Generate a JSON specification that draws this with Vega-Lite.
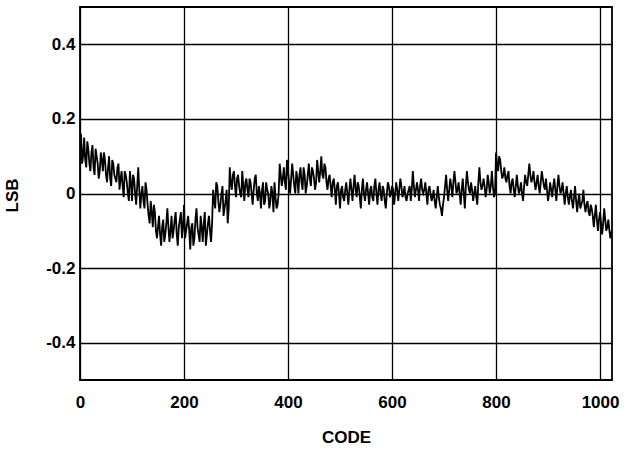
{
  "$schema": "https://vega.github.io/schema/vega-lite/v6.json",
  "width": 532,
  "height": 373,
  "autosize": "none",
  "padding": {"left": 80, "top": 7, "right": 22, "bottom": 69},
  "background": "white",
  "config": {
    "view": {"stroke": "black", "strokeWidth": 1.8},
    "font": "Liberation Sans"
  },
  "data": {"values": [
    {"code":0,"lsb":0.13},{"code":4,"lsb":0.08},{"code":8,"lsb":0.15},{"code":12,"lsb":0.07},{"code":16,"lsb":0.12},{"code":20,"lsb":0.06},{"code":24,"lsb":0.13},{"code":28,"lsb":0.05},{"code":32,"lsb":0.10},{"code":36,"lsb":0.04},{"code":40,"lsb":0.11},{"code":44,"lsb":0.06},{"code":48,"lsb":0.09},{"code":52,"lsb":0.03},{"code":56,"lsb":0.10},{"code":60,"lsb":0.02},{"code":64,"lsb":0.08},{"code":68,"lsb":0.04},{"code":72,"lsb":0.07},{"code":76,"lsb":0.01},{"code":80,"lsb":0.06},{"code":84,"lsb":-0.01},{"code":88,"lsb":0.05},{"code":92,"lsb":0.00},{"code":96,"lsb":0.06},{"code":100,"lsb":-0.02},{"code":104,"lsb":0.04},{"code":108,"lsb":-0.03},{"code":112,"lsb":0.07},{"code":116,"lsb":-0.04},{"code":120,"lsb":0.02},{"code":124,"lsb":-0.04},
    {"code":128,"lsb":0.01},{"code":132,"lsb":-0.06},{"code":136,"lsb":-0.02},{"code":140,"lsb":-0.09},{"code":144,"lsb":-0.05},{"code":148,"lsb":-0.12},{"code":152,"lsb":-0.06},{"code":156,"lsb":-0.14},{"code":160,"lsb":-0.07},{"code":164,"lsb":-0.11},{"code":168,"lsb":-0.04},{"code":172,"lsb":-0.13},{"code":176,"lsb":-0.06},{"code":180,"lsb":-0.10},{"code":184,"lsb":-0.05},{"code":188,"lsb":-0.14},{"code":192,"lsb":-0.07},{"code":196,"lsb":-0.12},{"code":200,"lsb":-0.03},{"code":204,"lsb":-0.10},{"code":208,"lsb":-0.06},{"code":212,"lsb":-0.15},{"code":216,"lsb":-0.08},{"code":220,"lsb":-0.12},{"code":224,"lsb":-0.04},{"code":228,"lsb":-0.11},{"code":232,"lsb":-0.06},{"code":236,"lsb":-0.13},{"code":240,"lsb":-0.05},{"code":244,"lsb":-0.11},{"code":248,"lsb":-0.06},{"code":252,"lsb":-0.13},
    {"code":256,"lsb":0.01},{"code":260,"lsb":-0.04},{"code":264,"lsb":0.02},{"code":268,"lsb":-0.05},{"code":272,"lsb":0.00},{"code":276,"lsb":-0.06},{"code":280,"lsb":-0.02},{"code":284,"lsb":-0.08},{"code":288,"lsb":0.07},{"code":292,"lsb":0.01},{"code":296,"lsb":0.06},{"code":300,"lsb":-0.01},{"code":304,"lsb":0.05},{"code":308,"lsb":0.00},{"code":312,"lsb":0.06},{"code":316,"lsb":-0.02},{"code":320,"lsb":0.04},{"code":324,"lsb":-0.01},{"code":328,"lsb":0.03},{"code":332,"lsb":-0.03},{"code":336,"lsb":0.04},{"code":340,"lsb":0.00},{"code":344,"lsb":0.02},{"code":348,"lsb":-0.04},{"code":352,"lsb":0.03},{"code":356,"lsb":-0.02},{"code":360,"lsb":0.01},{"code":364,"lsb":-0.04},{"code":368,"lsb":0.02},{"code":372,"lsb":-0.05},{"code":376,"lsb":-0.01},{"code":380,"lsb":-0.03},
    {"code":384,"lsb":0.08},{"code":388,"lsb":0.02},{"code":392,"lsb":0.07},{"code":396,"lsb":0.01},{"code":400,"lsb":0.06},{"code":404,"lsb":0.00},{"code":408,"lsb":0.08},{"code":412,"lsb":0.02},{"code":416,"lsb":0.06},{"code":420,"lsb":0.00},{"code":424,"lsb":0.07},{"code":428,"lsb":0.01},{"code":432,"lsb":0.05},{"code":436,"lsb":0.02},{"code":440,"lsb":0.08},{"code":444,"lsb":0.02},{"code":448,"lsb":0.06},{"code":452,"lsb":0.01},{"code":456,"lsb":0.09},{"code":460,"lsb":0.03},{"code":464,"lsb":0.10},{"code":468,"lsb":0.04},{"code":472,"lsb":0.07},{"code":476,"lsb":0.01},{"code":480,"lsb":0.05},{"code":484,"lsb":-0.01},{"code":488,"lsb":0.04},{"code":492,"lsb":-0.03},{"code":496,"lsb":0.03},{"code":500,"lsb":-0.04},{"code":504,"lsb":0.02},{"code":508,"lsb":-0.02},
    {"code":512,"lsb":0.03},{"code":516,"lsb":-0.03},{"code":520,"lsb":0.04},{"code":524,"lsb":-0.02},{"code":528,"lsb":0.05},{"code":532,"lsb":-0.01},{"code":536,"lsb":0.02},{"code":540,"lsb":-0.04},{"code":544,"lsb":0.04},{"code":548,"lsb":-0.02},{"code":552,"lsb":0.03},{"code":556,"lsb":-0.03},{"code":560,"lsb":0.02},{"code":564,"lsb":-0.02},{"code":568,"lsb":0.04},{"code":572,"lsb":-0.03},{"code":576,"lsb":0.03},{"code":580,"lsb":-0.02},{"code":584,"lsb":0.01},{"code":588,"lsb":-0.04},{"code":592,"lsb":0.03},{"code":596,"lsb":-0.01},{"code":600,"lsb":0.02},{"code":604,"lsb":-0.03},{"code":608,"lsb":0.03},{"code":612,"lsb":-0.02},{"code":616,"lsb":0.04},{"code":620,"lsb":-0.01},{"code":624,"lsb":0.02},{"code":628,"lsb":-0.02},{"code":632,"lsb":0.01},{"code":636,"lsb":-0.02},
    {"code":640,"lsb":0.06},{"code":644,"lsb":-0.01},{"code":648,"lsb":0.03},{"code":652,"lsb":-0.02},{"code":656,"lsb":0.04},{"code":660,"lsb":0.00},{"code":664,"lsb":0.03},{"code":668,"lsb":-0.03},{"code":672,"lsb":0.02},{"code":676,"lsb":-0.02},{"code":680,"lsb":0.01},{"code":684,"lsb":-0.04},{"code":688,"lsb":0.02},{"code":692,"lsb":-0.03},{"code":696,"lsb":-0.06},{"code":700,"lsb":-0.01},{"code":704,"lsb":0.05},{"code":708,"lsb":-0.02},{"code":712,"lsb":0.04},{"code":716,"lsb":-0.01},{"code":720,"lsb":0.06},{"code":724,"lsb":0.00},{"code":728,"lsb":0.03},{"code":732,"lsb":-0.03},{"code":736,"lsb":0.04},{"code":740,"lsb":-0.04},{"code":744,"lsb":0.06},{"code":748,"lsb":0.01},{"code":752,"lsb":0.03},{"code":756,"lsb":-0.02},{"code":760,"lsb":0.02},{"code":764,"lsb":-0.03},{"code":768,"lsb":0.07},{"code":772,"lsb":0.01},{"code":776,"lsb":0.04},{"code":780,"lsb":-0.01},{"code":784,"lsb":0.05},{"code":788,"lsb":0.00},{"code":792,"lsb":0.06},{"code":796,"lsb":-0.01},
    {"code":800,"lsb":0.11},{"code":804,"lsb":0.06},{"code":808,"lsb":0.09},{"code":812,"lsb":0.04},{"code":816,"lsb":0.07},{"code":820,"lsb":0.03},{"code":824,"lsb":0.06},{"code":828,"lsb":0.00},{"code":832,"lsb":0.04},{"code":836,"lsb":-0.01},{"code":840,"lsb":0.05},{"code":844,"lsb":0.00},{"code":848,"lsb":0.03},{"code":852,"lsb":-0.02},{"code":856,"lsb":0.05},{"code":860,"lsb":0.02},{"code":864,"lsb":0.08},{"code":868,"lsb":0.03},{"code":872,"lsb":0.06},{"code":876,"lsb":0.01},{"code":880,"lsb":0.05},{"code":884,"lsb":0.00},{"code":888,"lsb":0.06},{"code":892,"lsb":0.02},{"code":896,"lsb":0.04},{"code":900,"lsb":-0.02},{"code":904,"lsb":0.03},{"code":908,"lsb":-0.01},{"code":912,"lsb":0.04},{"code":916,"lsb":-0.02},{"code":920,"lsb":0.05},{"code":924,"lsb":0.00},{"code":928,"lsb":0.03},{"code":932,"lsb":-0.03},{"code":936,"lsb":0.02},{"code":940,"lsb":-0.03},{"code":944,"lsb":0.01},{"code":948,"lsb":-0.04},{"code":952,"lsb":0.02},{"code":956,"lsb":-0.05},{"code":960,"lsb":0.00},{"code":964,"lsb":-0.03},{"code":968,"lsb":0.01},{"code":972,"lsb":-0.05},{"code":976,"lsb":-0.02},{"code":980,"lsb":-0.06},{"code":984,"lsb":-0.04},{"code":988,"lsb":-0.09},{"code":992,"lsb":-0.03},{"code":996,"lsb":-0.10},{"code":1000,"lsb":-0.05},{"code":1004,"lsb":-0.11},{"code":1008,"lsb":-0.04},{"code":1012,"lsb":-0.10},{"code":1016,"lsb":-0.07},{"code":1020,"lsb":-0.12},{"code":1023,"lsb":-0.11},
    {"code":2,"lsb":0.16},{"code":6,"lsb":0.10},{"code":10,"lsb":0.09},{"code":14,"lsb":0.14},{"code":18,"lsb":0.08},{"code":22,"lsb":0.11},{"code":26,"lsb":0.07},{"code":30,"lsb":0.12},{"code":34,"lsb":0.08},{"code":38,"lsb":0.06},{"code":42,"lsb":0.09},{"code":46,"lsb":0.11},{"code":50,"lsb":0.05},{"code":54,"lsb":0.07},{"code":58,"lsb":0.04},{"code":62,"lsb":0.09},{"code":66,"lsb":0.05},{"code":70,"lsb":0.03},{"code":74,"lsb":0.08},{"code":78,"lsb":0.04},{"code":82,"lsb":0.02},{"code":86,"lsb":0.06},{"code":90,"lsb":0.03},{"code":94,"lsb":-0.02},{"code":98,"lsb":0.03},{"code":102,"lsb":0.05},{"code":106,"lsb":0.00},{"code":110,"lsb":0.02},{"code":114,"lsb":0.01},{"code":118,"lsb":0.00},{"code":122,"lsb":-0.02},{"code":126,"lsb":0.03},
    {"code":130,"lsb":-0.03},{"code":134,"lsb":-0.08},{"code":138,"lsb":-0.05},{"code":142,"lsb":-0.03},{"code":146,"lsb":-0.10},{"code":150,"lsb":-0.09},{"code":154,"lsb":-0.11},{"code":158,"lsb":-0.09},{"code":162,"lsb":-0.13},{"code":166,"lsb":-0.08},{"code":170,"lsb":-0.09},{"code":174,"lsb":-0.10},{"code":178,"lsb":-0.12},{"code":182,"lsb":-0.07},{"code":186,"lsb":-0.11},{"code":190,"lsb":-0.09},{"code":194,"lsb":-0.05},{"code":198,"lsb":-0.09},{"code":202,"lsb":-0.12},{"code":206,"lsb":-0.08},{"code":210,"lsb":-0.10},{"code":214,"lsb":-0.09},{"code":218,"lsb":-0.14},{"code":222,"lsb":-0.07},{"code":226,"lsb":-0.09},{"code":230,"lsb":-0.13},{"code":234,"lsb":-0.09},{"code":238,"lsb":-0.08},{"code":242,"lsb":-0.14},{"code":246,"lsb":-0.08},{"code":250,"lsb":-0.10},{"code":254,"lsb":-0.08},
    {"code":258,"lsb":-0.02},{"code":262,"lsb":0.03},{"code":266,"lsb":-0.02},{"code":270,"lsb":-0.03},{"code":274,"lsb":0.02},{"code":278,"lsb":-0.04},{"code":282,"lsb":0.01},{"code":286,"lsb":-0.04},{"code":290,"lsb":0.03},{"code":294,"lsb":0.05},{"code":298,"lsb":0.02},{"code":302,"lsb":0.04},{"code":306,"lsb":0.02},{"code":310,"lsb":-0.01},{"code":314,"lsb":0.02},{"code":318,"lsb":0.03},{"code":322,"lsb":0.01},{"code":326,"lsb":0.04},{"code":330,"lsb":0.00},{"code":334,"lsb":0.01},{"code":338,"lsb":0.05},{"code":342,"lsb":-0.02},{"code":346,"lsb":0.00},{"code":350,"lsb":0.01},{"code":354,"lsb":-0.03},{"code":358,"lsb":0.03},{"code":362,"lsb":0.00},{"code":366,"lsb":-0.02},{"code":370,"lsb":0.00},{"code":374,"lsb":0.03},{"code":378,"lsb":-0.04},{"code":382,"lsb":0.00},
    {"code":386,"lsb":0.05},{"code":390,"lsb":0.04},{"code":394,"lsb":0.03},{"code":398,"lsb":0.09},{"code":402,"lsb":0.03},{"code":406,"lsb":0.04},{"code":410,"lsb":0.05},{"code":414,"lsb":0.00},{"code":418,"lsb":0.04},{"code":422,"lsb":0.05},{"code":426,"lsb":0.03},{"code":430,"lsb":0.07},{"code":434,"lsb":0.00},{"code":438,"lsb":0.05},{"code":442,"lsb":0.04},{"code":446,"lsb":0.07},{"code":450,"lsb":0.04},{"code":454,"lsb":0.03},{"code":458,"lsb":0.06},{"code":462,"lsb":0.06},{"code":466,"lsb":0.05},{"code":470,"lsb":0.08},{"code":474,"lsb":0.03},{"code":478,"lsb":0.04},{"code":482,"lsb":0.02},{"code":486,"lsb":0.03},{"code":490,"lsb":0.01},{"code":494,"lsb":0.02},{"code":498,"lsb":0.00},{"code":502,"lsb":0.01},{"code":506,"lsb":-0.01},{"code":510,"lsb":0.01},
    {"code":514,"lsb":0.00},{"code":518,"lsb":0.01},{"code":522,"lsb":0.01},{"code":526,"lsb":0.02},{"code":530,"lsb":0.01},{"code":534,"lsb":0.03},{"code":538,"lsb":-0.01},{"code":542,"lsb":0.01},{"code":546,"lsb":0.00},{"code":550,"lsb":0.01},{"code":554,"lsb":0.00},{"code":558,"lsb":0.01},{"code":562,"lsb":-0.01},{"code":566,"lsb":0.02},{"code":570,"lsb":0.00},{"code":574,"lsb":0.01},{"code":578,"lsb":0.00},{"code":582,"lsb":0.02},{"code":586,"lsb":-0.02},{"code":590,"lsb":0.00},{"code":594,"lsb":0.02},{"code":598,"lsb":0.00},{"code":602,"lsb":0.01},{"code":606,"lsb":0.00},{"code":610,"lsb":0.01},{"code":614,"lsb":0.01},{"code":618,"lsb":0.02},{"code":622,"lsb":0.00},{"code":626,"lsb":-0.01},{"code":630,"lsb":0.00},{"code":634,"lsb":0.02},{"code":638,"lsb":0.01},
    {"code":642,"lsb":0.02},{"code":646,"lsb":0.01},{"code":650,"lsb":0.01},{"code":654,"lsb":0.02},{"code":658,"lsb":0.01},{"code":662,"lsb":0.01},{"code":666,"lsb":0.00},{"code":670,"lsb":0.01},{"code":674,"lsb":0.00},{"code":678,"lsb":-0.01},{"code":682,"lsb":-0.02},{"code":686,"lsb":-0.01},{"code":690,"lsb":-0.01},{"code":694,"lsb":-0.04},{"code":698,"lsb":-0.03},
    {"code":702,"lsb":0.02},{"code":706,"lsb":0.01},{"code":710,"lsb":0.01},{"code":714,"lsb":0.02},{"code":718,"lsb":0.03},{"code":722,"lsb":0.03},{"code":726,"lsb":0.01},{"code":730,"lsb":0.00},{"code":734,"lsb":0.01},{"code":738,"lsb":0.00},{"code":742,"lsb":0.02},{"code":746,"lsb":0.03},{"code":750,"lsb":0.00},{"code":754,"lsb":0.01},{"code":758,"lsb":0.00},{"code":762,"lsb":-0.01},{"code":766,"lsb":0.03},{"code":770,"lsb":0.03},{"code":774,"lsb":0.02},{"code":778,"lsb":0.02},{"code":782,"lsb":0.01},{"code":786,"lsb":0.03},{"code":790,"lsb":0.02},{"code":794,"lsb":0.02},{"code":798,"lsb":0.00},
    {"code":802,"lsb":0.08},{"code":806,"lsb":0.10},{"code":810,"lsb":0.06},{"code":814,"lsb":0.05},{"code":818,"lsb":0.04},{"code":822,"lsb":0.05},{"code":826,"lsb":0.02},{"code":830,"lsb":0.03},{"code":834,"lsb":0.01},{"code":838,"lsb":0.02},{"code":842,"lsb":0.02},{"code":846,"lsb":0.01},{"code":850,"lsb":0.00},{"code":854,"lsb":0.02},{"code":858,"lsb":0.03},{"code":862,"lsb":0.05},{"code":866,"lsb":0.05},{"code":870,"lsb":0.04},{"code":874,"lsb":0.03},{"code":878,"lsb":0.03},{"code":882,"lsb":0.02},{"code":886,"lsb":0.03},{"code":890,"lsb":0.04},{"code":894,"lsb":0.01},{"code":898,"lsb":0.01},{"code":902,"lsb":0.00},{"code":906,"lsb":0.01},{"code":910,"lsb":0.02},{"code":914,"lsb":0.01},{"code":918,"lsb":0.02},{"code":922,"lsb":0.02},{"code":926,"lsb":0.01},{"code":930,"lsb":0.00},{"code":934,"lsb":0.00},{"code":938,"lsb":-0.01},{"code":942,"lsb":-0.01},{"code":946,"lsb":-0.02},{"code":950,"lsb":-0.01},{"code":954,"lsb":-0.02},{"code":958,"lsb":-0.02},{"code":962,"lsb":-0.04},{"code":966,"lsb":-0.02},{"code":970,"lsb":-0.03},{"code":974,"lsb":-0.03},{"code":978,"lsb":-0.05},{"code":982,"lsb":-0.03},{"code":986,"lsb":-0.06},{"code":990,"lsb":-0.06},{"code":994,"lsb":-0.07},{"code":998,"lsb":-0.07},{"code":1002,"lsb":-0.08},{"code":1006,"lsb":-0.08},{"code":1010,"lsb":-0.07},{"code":1014,"lsb":-0.09},{"code":1018,"lsb":-0.10},{"code":1022,"lsb":-0.10}
  ]},
  "mark": {"type": "line", "color": "black", "strokeWidth": 1.8, "clip": true},
  "encoding": {
    "x": {
      "field": "code", "type": "quantitative",
      "scale": {"domain": [0, 1023], "nice": false, "zero": false},
      "axis": {
        "title": "CODE", "values": [0, 200, 400, 600, 800, 1000], "format": "d",
        "grid": true, "gridColor": "black", "gridOpacity": 1, "gridWidth": 1.3,
        "domain": false, "ticks": false,
        "labelFont": "Liberation Sans", "labelFontWeight": "bold", "labelFontSize": 17, "labelColor": "black",
        "labelPadding": 14, "labelFlush": false,
        "titleFont": "Liberation Sans", "titleFontWeight": "bold", "titleFontSize": 17, "titleColor": "black",
        "titleX": 266, "titleY": 57, "titleBaseline": "middle", "titleAlign": "center"
      }
    },
    "y": {
      "field": "lsb", "type": "quantitative",
      "scale": {"domain": [-0.5, 0.5], "nice": false, "zero": false},
      "axis": {
        "title": "LSB", "values": [-0.4, -0.2, 0, 0.2, 0.4],
        "labelExpr": "replace(format(datum.value, '.1~f'), '\u2212', '-')",
        "grid": true, "gridColor": "black", "gridOpacity": 1, "gridWidth": 1.3,
        "domain": false, "ticks": false,
        "labelFont": "Liberation Sans", "labelFontWeight": "bold", "labelFontSize": 17, "labelColor": "black",
        "labelPadding": 5, "labelFlush": false,
        "titleFont": "Liberation Sans", "titleFontWeight": "bold", "titleFontSize": 17, "titleColor": "black",
        "titleX": -68, "titleY": 188, "titleBaseline": "middle", "titleAlign": "center", "titleAngle": -90
      }
    }
  }
}
